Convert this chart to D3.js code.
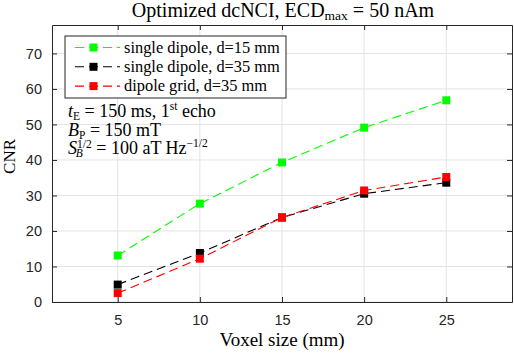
<!DOCTYPE html>
<html><head><meta charset="utf-8">
<script src="https://cdn.jsdelivr.net/npm/d3@7"></script>
<style>body{margin:0;background:#fff}svg{display:block}</style>
</head><body>
<script>
const voxelSizes = [5, 10, 15, 20, 25];
const seriesNames = ["single dipole, d=15 mm", "single dipole, d=35 mm", "dipole grid, d=35 mm"];
const seriesColors = ["#00ff00", "#000000", "#ff0000"];
const green15 = [13.1, 27.7, 39.3, 49.1, 56.8];
const black35 = [4.9, 13.8, 23.8, 30.5, 33.6];
const red35 = [2.5, 12.2, 23.8, 31.4, 35.2];
const xTicks = [5, 10, 15, 20, 25];
const yTicks = [0, 10, 20, 30, 40, 50, 60, 70];

const W = 514, H = 354;
const m = {left: 52, right: 2, top: 25, bottom: 52};
const serif = "'Liberation Serif', serif";
const sans = "'Liberation Sans', Arial, sans-serif";
const svg = d3.select("body").append("svg").attr("width", W).attr("height", H);

const x = d3.scaleLinear().domain([1, 29]).range([m.left, W - m.right]);
const y = d3.scaleLinear().domain([0, 78]).range([H - m.bottom, m.top]);

// grid
svg.append("g").selectAll("line").data(xTicks).join("line")
  .attr("x1", d => x(d)).attr("x2", d => x(d)).attr("y1", y(0)).attr("y2", y(78))
  .attr("stroke", "#e3e3e3").attr("stroke-width", 1);
svg.append("g").selectAll("line").data(yTicks).join("line")
  .attr("x1", x(1)).attr("x2", x(29)).attr("y1", d => y(d)).attr("y2", d => y(d))
  .attr("stroke", "#e3e3e3").attr("stroke-width", 1);

// axes
const ax = svg.append("g").attr("transform", `translate(0,${y(0)})`)
  .call(d3.axisBottom(x).tickValues(xTicks).tickSizeInner(-5).tickSizeOuter(0).tickPadding(13));
const axT = svg.append("g").attr("transform", `translate(0,${y(78)})`)
  .call(d3.axisTop(x).tickValues(xTicks).tickSizeInner(-5).tickSizeOuter(0).tickFormat(""));
const ay = svg.append("g").attr("transform", `translate(${x(1)},0)`)
  .call(d3.axisLeft(y).tickValues(yTicks).tickSizeInner(-5).tickSizeOuter(0).tickPadding(10));
const ayR = svg.append("g").attr("transform", `translate(${x(29)},0)`)
  .call(d3.axisRight(y).tickValues(yTicks).tickSizeInner(-5).tickSizeOuter(0).tickFormat(""));
[ax, axT, ay, ayR].forEach(g => {
  g.selectAll("path").attr("stroke", "#262626");
  g.selectAll("line").attr("stroke", "#262626");
  g.selectAll("text").attr("font-family", sans).attr("font-size", 14.5).attr("fill", "#262626");
});

// series
const series = [green15, black35, red35];
const line = d3.line().x((d, i) => x(voxelSizes[i])).y(d => y(d));
series.forEach((s, k) => {
  svg.append("path").datum(s).attr("d", line).attr("fill", "none")
    .attr("stroke", seriesColors[k]).attr("stroke-width", 1.1).attr("stroke-dasharray", "9,5");
});
series.forEach((s, k) => {
  svg.append("g").selectAll("rect").data(s).join("rect")
    .attr("x", (d, i) => x(voxelSizes[i]) - 4).attr("y", d => y(d) - 4)
    .attr("width", 8).attr("height", 8).attr("fill", seriesColors[k]);
});

// title
const title = svg.append("text").attr("x", 283).attr("y", 17).attr("text-anchor", "middle")
  .attr("font-family", serif).attr("font-size", 20).attr("fill", "#000");
title.append("tspan").text("Optimized dcNCI, ECD");
title.append("tspan").attr("font-size", 13.5).attr("dy", 3).text("max");
title.append("tspan").attr("dy", -3).text(" = 50 nAm");

// axis labels
svg.append("text").attr("x", x(15)).attr("y", 346).attr("text-anchor", "middle")
  .attr("font-family", serif).attr("font-size", 19).text("Voxel size (mm)");
svg.append("text").attr("transform", `translate(15,${y(41)}) rotate(-90)`).attr("text-anchor", "middle")
  .attr("font-family", serif).attr("font-size", 17).text("CNR");

// legend
const lg = svg.append("g");
lg.append("rect").attr("x", 65).attr("y", 36).attr("width", 221).attr("height", 62)
  .attr("fill", "#fff").attr("stroke", "#262626").attr("stroke-width", 1);
seriesNames.forEach((n, k) => {
  const yy = 47.5 + k * 19.3;
  lg.append("line").attr("x1", 75).attr("x2", 120).attr("y1", yy).attr("y2", yy)
    .attr("stroke", seriesColors[k]).attr("stroke-width", 1.1).attr("stroke-dasharray", "9,5");
  lg.append("rect").attr("x", 93.5 - 4).attr("y", yy - 4).attr("width", 8).attr("height", 8).attr("fill", seriesColors[k]);
  lg.append("text").attr("x", 124).attr("y", yy + 5).attr("font-family", serif).attr("font-size", 16.4).text(n);
});

// annotations
const ann = svg.append("g").attr("font-family", serif).attr("font-size", 18);
const t1 = ann.append("text").attr("x", 68).attr("y", 117);
t1.append("tspan").attr("font-style", "italic").text("t");
t1.append("tspan").attr("font-size", 11.5).attr("dy", 3).text("E");
t1.append("tspan").attr("dy", -3).text(" = 150 ms, 1");
t1.append("tspan").attr("font-size", 11.5).attr("dy", -7).text("st");
t1.append("tspan").attr("dy", 7).text(" echo");
const t2 = ann.append("text").attr("x", 68).attr("y", 136);
t2.append("tspan").attr("font-style", "italic").text("B");
t2.append("tspan").attr("font-size", 11.5).attr("dy", 3).text("P");
t2.append("tspan").attr("dy", -3).text(" = 150 mT");
const t3 = ann.append("text").attr("x", 68).attr("y", 154);
t3.append("tspan").attr("font-style", "italic").text("S");
t3.append("tspan").attr("font-size", 11.5).attr("dy", -6).text("1/2");
t3.append("tspan").attr("font-size", 11.5).attr("font-style", "italic").attr("dx", -16).attr("dy", 9).text("B");
t3.append("tspan").attr("dx", 9).attr("dy", -3).text(" = 100 aT Hz");
t3.append("tspan").attr("font-size", 11.5).attr("dy", -7).text("−1/2");
</script>
</body></html>
